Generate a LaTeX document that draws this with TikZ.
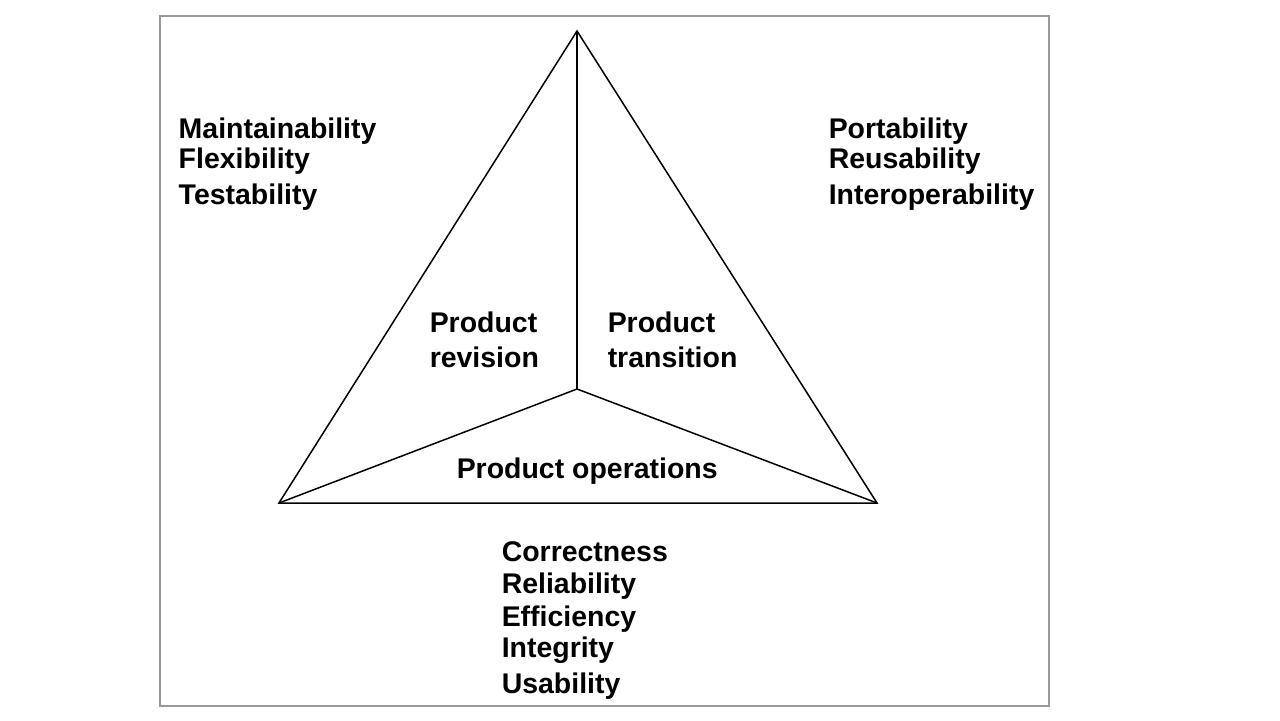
\documentclass[tikz,border=0pt]{standalone}
\usepackage{fontspec}
\setmainfont{Liberation Sans}

\begin{document}
\begin{tikzpicture}[x=0.02cm, y=-0.02cm, line width=0.85pt,
    lbl/.style={anchor=base west, inner sep=0pt, font=\bfseries\fontsize{16.2}{19}\selectfont}]
  \useasboundingbox (0, 0) rectangle (1280, 720);
  \draw[gray!80, line width=0.7pt] (160, 16) rectangle (1049, 706);

  \coordinate (apex) at (577, 31);
  \coordinate (mid) at (577, 389);
  \coordinate (left) at (279, 503);
  \coordinate (right) at (877, 503);

  \draw (apex) -- (left) -- (right) -- cycle;
  \draw (apex) -- (mid);
  \draw (left) -- (mid) -- (right);

  \node[lbl] (rev1) at (429, 332) {Product};
  \node[lbl] (rev2) at (429, 367) {revision};
  \node[lbl] (tra1) at (607, 332) {Product};
  \node[lbl] (tra2) at (607, 367) {transition};
  \node[lbl] (ops) at (456, 478) {Product operations};

  \node[lbl] (maint) at (178, 138) {Maintainability};
  \node[lbl] (flex) at (178, 168) {Flexibility};
  \node[lbl] (test) at (178, 204) {Testability};

  \node[lbl] (port) at (828, 138) {Portability};
  \node[lbl] (reuse) at (828, 168) {Reusability};
  \node[lbl] (inter) at (828, 204) {Interoperability};

  \node[lbl] (corr) at (501, 561) {Correctness};
  \node[lbl] (reli) at (501, 593) {Reliability};
  \node[lbl] (effi) at (501, 626) {Efficiency};
  \node[lbl] (integ) at (501, 657) {Integrity};
  \node[lbl] (usab) at (501, 693) {Usability};
\end{tikzpicture}
\end{document}
